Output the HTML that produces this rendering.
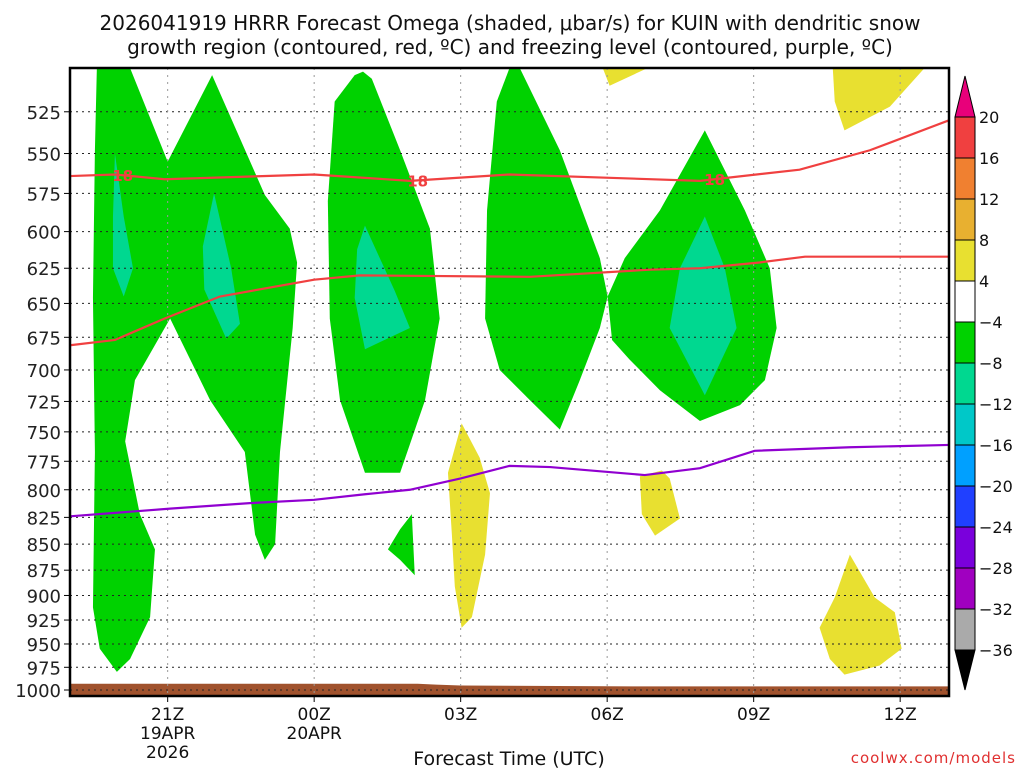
<!DOCTYPE html>
<html><head><meta charset="utf-8"><style>
body{margin:0;background:#fff;width:1024px;height:768px;overflow:hidden}
svg text{font-family:"DejaVu Sans","Liberation Sans",sans-serif}
</style></head><body>
<svg id="chart" width="1024" height="768" xmlns="http://www.w3.org/2000/svg">
<text x="510" y="30" font-size="20" text-anchor="middle" fill="#111">2026041919 HRRR Forecast Omega (shaded, μbar/s) for KUIN with dendritic snow</text>
<text x="510" y="54" font-size="20" text-anchor="middle" fill="#111">growth region (contoured, red, ºC) and freezing level (contoured, purple, ºC)</text>
<g id="plot"></g>
<g id="axes"></g>
<g id="cbar"></g>
<text x="509" y="765" font-size="19" text-anchor="middle" fill="#111">Forecast Time (UTC)</text>
<text x="1016" y="763" font-size="15" text-anchor="end" fill="#e03030" letter-spacing="1">coolwx.com/models</text>
</svg>
<script>
// x: hours since 19Z, y: pressure (hPa)
const pTicks=[525,550,575,600,625,650,675,700,725,750,775,800,825,850,875,900,925,950,975,1000];
const xTickHours=[2,5,8,11,14,17];
const xTickLabels=[["21Z","19APR","2026"],["00Z","20APR"],["03Z"],["06Z"],["09Z"],["12Z"]];
const greenAreas=[
 [[0.55,500],[1.23,500],[2.0,555],[2.91,504],[3.99,576],[4.5,598],[4.65,621],[4.56,668],[4.3,767],[4.2,850],[3.99,865],[3.79,841],[3.58,767],[2.87,724],[2.05,661],[1.33,708],[1.13,758],[1.43,822],[1.74,855],[1.64,922],[1.23,966],[0.96,980],[0.61,955],[0.47,912],[0.51,767],[0.47,646],[0.51,548]],
 [[5.83,504],[6.0,502],[6.18,506],[6.76,548],[7.37,598],[7.57,661],[7.27,724],[6.76,785],[6.04,785],[5.53,724],[5.32,661],[5.28,580],[5.42,519]],
 [[7.0,822],[7.06,880],[6.76,865],[6.51,855],[6.76,836]],
 [[9.0,500],[9.21,500],[10.03,548],[10.85,618],[11.01,645],[10.85,668],[10.44,708],[10.03,748],[9.42,724],[8.8,700],[8.5,661],[8.54,586],[8.74,519]],
 [[11.01,645],[11.36,618],[12.08,586],[13.0,536],[13.82,586],[14.33,625],[14.47,668],[14.23,708],[13.72,728],[12.9,741],[12.08,716],[11.46,692],[11.1,677]]
];
const tealAreas=[
 [[0.92,550],[1.1,590],[1.29,625],[1.1,645],[0.88,625],[0.88,590]],
 [[2.95,575],[3.3,625],[3.48,665],[3.2,676],[2.75,640],[2.72,610]],
 [[6.04,596],[6.65,641],[6.96,668],[6.04,684],[5.83,646],[5.88,612]],
 [[13.0,590],[13.41,625],[13.65,668],[13.0,720],[12.28,668],[12.49,625]]
];
const yellowAreas=[
 [[8.02,743],[8.39,772],[8.6,803],[8.5,860],[8.23,922],[8.02,933],[7.88,891],[7.82,841],[7.74,785]],
 [[11.67,788],[12.12,783],[12.28,790],[12.49,826],[11.98,842],[11.71,822]],
 [[15.97,860],[16.48,902],[16.89,917],[17.03,955],[16.58,973],[15.86,983],[15.56,966],[15.35,933],[15.66,902]],
 [[10.91,500],[11.83,500],[11.05,510]],
 [[15.62,500],[17.5,500],[16.79,522],[15.86,536],[15.66,519]]
];
const redTopHours=[0,0.92,1.94,5.0,6.96,9.0,12.9,14.94,16.38,18];
const redTopP=[564,563,566,563,567,563,567,560,548,530];
const redTopLabelHours=[1.08,7.12,13.2];
const redLowHours=[0,0.92,1.94,3.07,5.0,5.94,9.42,11.87,12.9,14.12,15.05,18];
const redLowP=[681,677,661,645,633,630,631,626,625,621,617,617];
const purpleHours=[0,2.05,3.68,5.0,6.04,6.96,8.0,9.0,9.83,11.77,12.9,14.02,15.97,18];
const purpleP=[824,817,812,809,804,800,790,779,780,787,781,766,763,761];
const groundHours=[0,7.12,7.5,8.0,11.5,14.9,18];
const groundP=[993,993,994,995,996,996,996];
const cbLevels=[20,16,12,8,4,-4,-8,-12,-16,-20,-24,-28,-32,-36];
const cbColors=["#f04040","#f08030","#e8b030","#e8e030","#ffffff","#00d200","#00d890","#00c8c8","#00a0ff","#2040ff","#7a00dc","#a000c0","#aaaaaa"];

const X0=70,X1=949,Y0=68,Y1=696,H0=0,H1=18,P0=500,P1=1006.7;
const xs=h=>X0+(h-H0)/(H1-H0)*(X1-X0);
const ys=p=>Y0+Math.log(p/P0)/Math.log(P1/P0)*(Y1-Y0);
const NS="http://www.w3.org/2000/svg";
function mk(tag,parent,attrs){const e=document.createElementNS(NS,tag);for(const k in attrs)e.setAttribute(k,attrs[k]);parent.appendChild(e);return e;}
const plot=document.getElementById('plot'),axes=document.getElementById('axes'),cbar=document.getElementById('cbar');
mk('defs',plot,{}).innerHTML='<clipPath id="clip"><rect x="70" y="68" width="879" height="628"/></clipPath>';
const g=mk('g',plot,{'clip-path':'url(#clip)'});
const pts=a=>a.map(d=>xs(d[0])+','+ys(d[1])).join(' ');
function areas(list,color,name){list.forEach((a)=>{const e=mk('polygon',g,{points:pts(a),fill:color});

});}
areas(greenAreas,'#00d200','omega-area-minus4');
areas(tealAreas,'#00d890','omega-area-minus8');
areas(yellowAreas,'#e8e030','omega-area-plus4');
// ground
let gp=groundHours.map((h,i)=>[h,groundP[i]]);gp=gp.concat([[18,1020],[0,1020]]);
const gr=mk('polygon',g,{points:pts(gp),fill:'#a0522d'});


// grid
pTicks.forEach(p=>{const l=mk('line',g,{x1:X0,x2:X1,y1:ys(p),y2:ys(p),stroke:'#222','stroke-width':1,'stroke-dasharray':'2,4'});

});
xTickHours.forEach(h=>{const l=mk('line',g,{x1:xs(h),x2:xs(h),y1:Y0,y2:Y1,stroke:'#999','stroke-width':1,'stroke-dasharray':'2,5'});

});
function line(hs,ps,color,name){const e=mk('polyline',g,{points:hs.map((h,i)=>xs(h)+','+ys(ps[i])).join(' '),fill:'none',stroke:color,'stroke-width':2.2});

}
line(redTopHours,redTopP,'#f04040','dgz-contour-upper');
line(redLowHours,redLowP,'#f04040','dgz-contour-lower');
line(purpleHours,purpleP,'#9000d0','freezing-level-line');
function interp(hs,ps,h){for(let i=0;i<hs.length-1;i++)if(h>=hs[i]&&h<=hs[i+1])return ps[i]+(ps[i+1]-ps[i])*(h-hs[i])/(hs[i+1]-hs[i]);return ps[0];}
redTopLabelHours.forEach(h=>{const x=xs(h),y=ys(interp(redTopHours,redTopP,h));
const t=mk('text',g,{x:x,y:y+6,'font-size':15,'font-weight':'bold','text-anchor':'middle',fill:'#f04040'});t.textContent='18';

});
// frame
const fr=mk('rect',axes,{x:X0,y:Y0,width:X1-X0,height:Y1-Y0,fill:'none',stroke:'#000','stroke-width':2.5});


pTicks.forEach(p=>{mk('line',axes,{x1:X0-6,x2:X0,y1:ys(p),y2:ys(p),stroke:'#000'});
const t=mk('text',axes,{x:X0-9,y:ys(p)+7,'font-size':18,'text-anchor':'end',fill:'#222'});t.textContent=p;

});
xTickHours.forEach((h,i)=>{mk('line',axes,{x1:xs(h),x2:xs(h),y1:Y1,y2:Y1+6,stroke:'#000'});
xTickLabels[i].forEach((s,j)=>{const t=mk('text',axes,{x:xs(h),y:Y1+24+j*19,'font-size':17,'text-anchor':'middle',fill:'#111'});t.textContent=s;

});});
// colorbar
const CX=955,CW=20,CT=117,CS=(650-117)/(cbLevels.length-1);
cbColors.forEach((c,i)=>{const r=mk('rect',cbar,{x:CX,y:CT+i*CS,width:CW,height:CS,fill:c,stroke:'#000','stroke-width':1});

});
mk('polygon',cbar,{points:`${CX},${CT} ${CX+CW},${CT} ${CX+CW/2},76`,fill:'#e8007a',stroke:'#000'});
mk('polygon',cbar,{points:`${CX},650 ${CX+CW},650 ${CX+CW/2},690`,fill:'#000',stroke:'#000'});
cbLevels.forEach((v,i)=>{const t=mk('text',cbar,{x:979,y:CT+i*CS+6,'font-size':16,fill:'#111'});t.textContent=(v<0?'\u2212'+(-v):v);

});
</script>
</body></html>
